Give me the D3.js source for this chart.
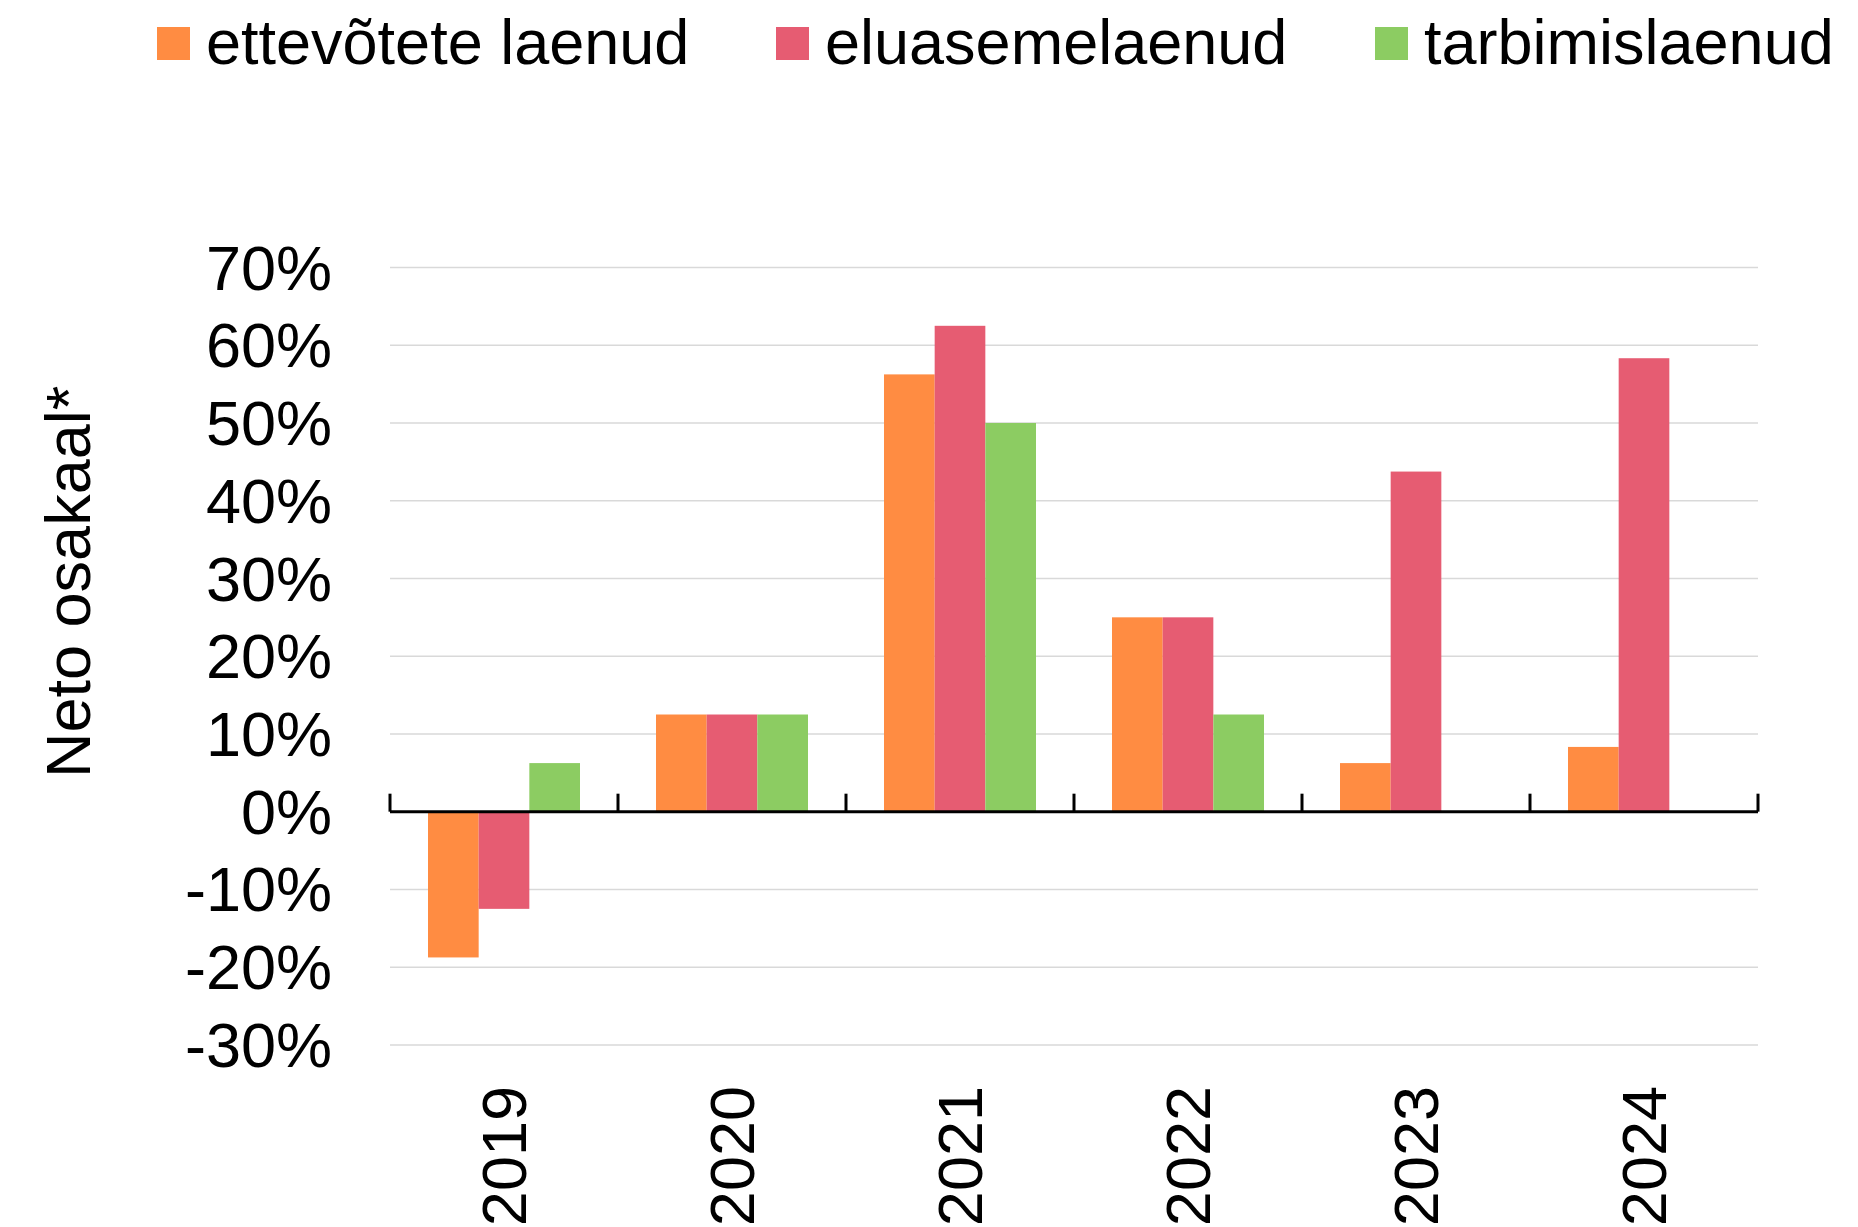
<!DOCTYPE html>
<meta charset="utf-8">
<script src="https://d3js.org/d3.v7.min.js"></script>
<style>
    body { margin: 0; background: #fff; }
    text { font-family: "Liberation Sans", Arial, sans-serif; fill: #000; }
</style>
<div id="chart"></div>

<script>
    // data (net share, fraction)
    const years = ["2019", "2020", "2021", "2022", "2023", "2024"];
    const seriesNames = ["ettevõtete laenud", "eluasemelaenud", "tarbimislaenud"];
    const ettevotete = [-0.1875, 0.125, 0.5625, 0.25, 0.0625, 0.0833];
    const eluaseme = [-0.125, 0.125, 0.625, 0.25, 0.4375, 0.5833];
    const tarbimis = [0.0625, 0.125, 0.5, 0.125, null, null];
    const yTicks = [-0.3, -0.2, -0.1, 0, 0.1, 0.2, 0.3, 0.4, 0.5, 0.6, 0.7];
    const colors = ["#ff8c42", "#e65c72", "#8ccc62"];

    const width = 1858, height = 1227;
    const fontSize = 63;

    const svg = d3.select("#chart")
        .append("svg")
            .attr("width", width)
            .attr("height", height);

    var x = d3.scaleBand()
        .domain(years)
        .range([390, 1758])
        .padding(0);

    // bars take 2/3 of each band, centered
    var groupPad = x.bandwidth() / 6;
    var x1 = d3.scaleBand()
        .domain(d3.range(seriesNames.length))
        .range([groupPad, x.bandwidth() - groupPad]);

    var y = d3.scaleLinear().domain([-0.3, 0.7]).range([1044.9, 267.5]);

    // gridlines
    svg.append("g")
        .selectAll("line")
        .data(yTicks.filter(d => d !== 0))
        .enter().append("line")
            .attr("x1", 390)
            .attr("x2", 1758)
            .attr("y1", d => y(d))
            .attr("y2", d => y(d))
            .attr("stroke", "#d9d9d9")
            .attr("stroke-width", 1.5);

    // y tick labels
    svg.append("g")
        .selectAll("text")
        .data(yTicks)
        .enter().append("text")
            .attr("x", 332)
            .attr("y", d => y(d))
            .attr("dy", "0.35em")
            .attr("text-anchor", "end")
            .style("font-size", fontSize + "px")
            .text(d => (d < 0 ? "-" : "") + Math.round(Math.abs(d) * 100) + "%");

    // bars
    const allSeries = [ettevotete, eluaseme, tarbimis];
    const rows = [];
    allSeries.forEach((vals, s) => {
        vals.forEach((v, i) => {
            if (v !== null) rows.push({ year: years[i], s: s, value: v });
        });
    });

    svg.append("g")
        .selectAll("rect")
        .data(rows)
        .enter().append("rect")
            .attr("x", d => x(d.year) + x1(d.s))
            .attr("width", x1.bandwidth())
            .attr("y", d => y(Math.max(0, d.value)))
            .attr("height", d => Math.abs(y(d.value) - y(0)))
            .attr("fill", d => colors[d.s]);

    // x axis line with ticks pointing up at band edges
    var axis = svg.append("g");
    axis.append("line")
        .attr("x1", 390)
        .attr("x2", 1758)
        .attr("y1", y(0))
        .attr("y2", y(0))
        .attr("stroke", "#000")
        .attr("stroke-width", 3);
    var edges = years.map(d => x(d)).concat([x.range()[1]]);
    axis.selectAll(".tick")
        .data(edges)
        .enter().append("line")
            .attr("class", "tick")
            .attr("x1", d => d)
            .attr("x2", d => d)
            .attr("y1", y(0))
            .attr("y2", y(0) - 18)
            .attr("stroke", "#000")
            .attr("stroke-width", 3);

    // year labels, rotated
    svg.append("g")
        .selectAll("text")
        .data(years)
        .enter().append("text")
            .attr("transform", d => "translate(" + (x(d) + x.bandwidth() / 2) + ",1086) rotate(-90)")
            .attr("dy", "0.35em")
            .attr("text-anchor", "end")
            .style("font-size", fontSize + "px")
            .text(d => d);

    // y axis title
    svg.append("text")
        .attr("transform", "translate(90,778) rotate(-90)")
        .attr("text-anchor", "start")
        .style("font-size", fontSize + "px")
        .text("Neto osakaal*");

    // legend
    const legendX = [157, 776, 1375];
    var legend = svg.append("g")
        .selectAll("g")
        .data(seriesNames)
        .enter().append("g")
            .attr("transform", (d, i) => "translate(" + legendX[i] + ",0)");
    legend.append("rect")
        .attr("x", 0)
        .attr("y", 27)
        .attr("width", 33)
        .attr("height", 33)
        .attr("fill", (d, i) => colors[i]);
    legend.append("text")
        .attr("x", 49)
        .attr("y", 64)
        .style("font-size", fontSize + "px")
        .text(d => d);
</script>
